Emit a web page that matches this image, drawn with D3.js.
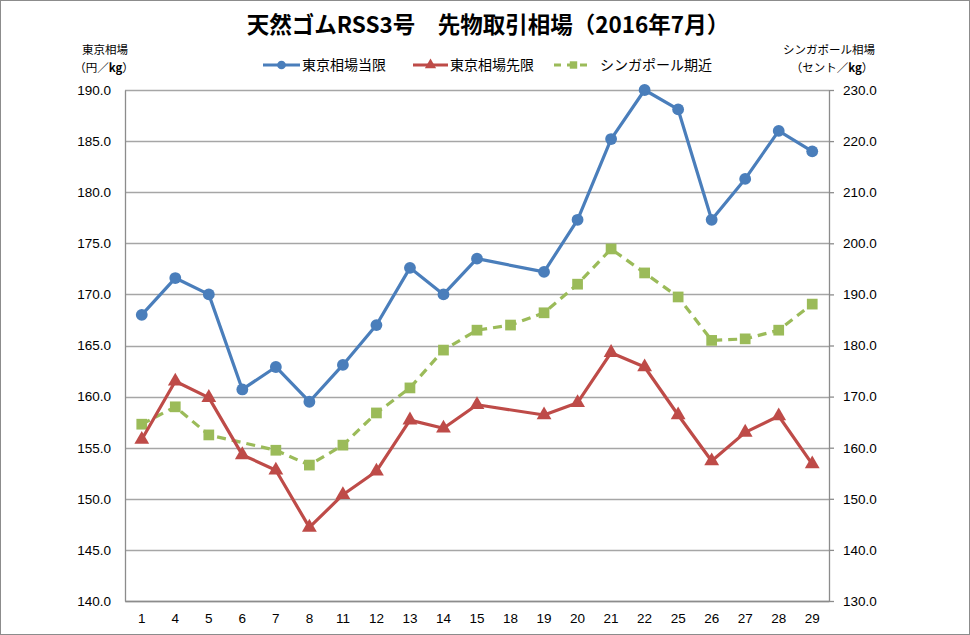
<!DOCTYPE html>
<html><head><meta charset="utf-8">
<script src="https://cdn.jsdelivr.net/npm/d3@7"></script>
<style>
html,body{margin:0;padding:0;background:#fff;}
svg{display:block;}
</style></head>
<body><svg id="c" width="970" height="635"></svg>
<script>
const categories = ["1","4","5","6","7","8","11","12","13","14","15","18","19","20","21","22","25","26","27","28","29"];
const tokyoSpot = [168.0,171.6,170.0,160.7,162.9,159.5,163.1,167.0,172.6,170.0,173.5,null,172.2,177.3,185.2,190.0,188.1,177.3,181.3,186.0,184.0];
const tokyoFuture = [155.8,161.5,159.9,154.3,152.8,147.2,150.4,152.7,157.7,156.9,159.2,null,158.2,159.4,164.3,162.9,158.2,153.7,156.5,158.1,153.4];
const singapore = [164.6,168.0,162.5,null,159.5,156.6,160.5,166.8,171.7,179.1,183.0,184.0,186.4,192.0,198.9,194.2,189.5,181.0,181.3,183.0,188.1];
const leftTicks = [140,145,150,155,160,165,170,175,180,185,190];
const rightTicks = [130,140,150,160,170,180,190,200,210,220,230];
const seriesNames = ["東京相場当限","東京相場先限","シンガポール期近"];
const title = "天然ゴムRSS3号　先物取引相場（2016年7月）";

const svg = d3.select("#c");
const W = 970, H = 635;
const m = {l:125, r:141, t:90, b:34};
const x = d3.scaleBand().domain(categories).range([m.l, W - m.r]);
const yL = d3.scaleLinear().domain([140,190]).range([H - m.b, m.t]);
const yR = d3.scaleLinear().domain([130,230]).range([H - m.b, m.t]);
const font = "'Liberation Sans', Arial, sans-serif";
const jfont = "'Noto Sans CJK JP', sans-serif";

// outer border
svg.append("rect").attr("x",0.5).attr("y",0.5).attr("width",W-1).attr("height",H-1)
  .attr("fill","#fff").attr("stroke","#8c8c8c").attr("stroke-width",1);

// gridlines
svg.append("g").selectAll("line").data(leftTicks).join("line")
  .attr("x1",m.l).attr("x2",W-m.r).attr("y1",d=>Math.round(yL(d))+0.5).attr("y2",d=>Math.round(yL(d))+0.5)
  .attr("stroke","#a6a6a6").attr("stroke-width",1.3);

// left axis
const gL = svg.append("g").attr("transform",`translate(${m.l},0)`)
  .call(d3.axisLeft(yL).tickValues(leftTicks).tickFormat(d3.format(".1f")).tickSize(0).tickPadding(14));
gL.select(".domain").attr("stroke","#8c8c8c").attr("stroke-width",1.3);
gL.selectAll("text").attr("font-family",font).attr("font-size",13.5).attr("fill","#000");

// right axis
const gR = svg.append("g").attr("transform",`translate(${W-m.r},0)`)
  .call(d3.axisRight(yR).tickValues(rightTicks).tickFormat(d3.format(".1f")).tickSizeInner(5).tickSizeOuter(0).tickPadding(9));
gR.select(".domain").attr("stroke","#8c8c8c").attr("stroke-width",1.3);
gR.selectAll("line").attr("stroke","#8c8c8c").attr("stroke-width",1.3);
gR.selectAll("text").attr("font-family",font).attr("font-size",13.5).attr("fill","#000");

// bottom axis
const gB = svg.append("g").attr("transform",`translate(0,${H-m.b})`)
  .call(d3.axisBottom(x).tickSize(0).tickPadding(12));
gB.select(".domain").attr("stroke","#8c8c8c").attr("stroke-width",1.3);
gB.selectAll("text").attr("font-family",font).attr("font-size",13.5).attr("fill","#000");

const cx = d => x(d) + x.bandwidth()/2;

function drawSeries(vals, yS, color, dash, marker){
  const pts = categories.map((c,i)=>({c, v:vals[i]})).filter(p=>p.v!=null);
  const line = d3.line().x(p=>cx(p.c)).y(p=>yS(p.v));
  svg.append("path").datum(pts).attr("d",line).attr("fill","none")
    .attr("stroke",color).attr("stroke-width",3.2).attr("stroke-linejoin","round")
    .attr("stroke-dasharray",dash||null);
  const sym = d3.symbol().type(marker.type).size(marker.size);
  svg.append("g").selectAll("path").data(pts).join("path")
    .attr("d",sym).attr("transform",p=>`translate(${cx(p.c)},${yS(p.v)})`)
    .attr("fill",color);
}
const blue = "#4a7ebb", red = "#be4b48", green = "#9bbb59";
drawSeries(singapore, yR, green, "9,6", {type:d3.symbolSquare, size:115});
drawSeries(tokyoFuture, yL, red, null, {type:d3.symbolTriangle, size:95});
drawSeries(tokyoSpot, yL, blue, null, {type:d3.symbolCircle, size:110});

// title
svg.append("text").attr("x",488).attr("y",33).attr("text-anchor","middle")
  .attr("font-family",jfont).attr("font-weight","bold").attr("font-size",22.5).attr("fill","#000")
  .text(title);

// axis titles
function at(tx,ty,parts){
  const t = svg.append("text").attr("x",tx).attr("y",ty).attr("text-anchor","middle")
    .attr("font-family",jfont).attr("font-size",11.5).attr("fill","#000");
  parts.forEach(p=>t.append("tspan").attr("font-weight",p[1]?"bold":null).text(p[0]));
}
at(105,54,[["東京相場"]]);
at(104,72,[["（円／"],["kg",1],["）"]]);
at(829,54,[["シンガポール相場"]]);
at(832,72,[["（セント／"],["kg",1],["）"]]);

// legend
const leg = [
  {x:263, len:37, tx:302, name:seriesNames[0], color:blue, type:d3.symbolCircle, size:60, dash:null},
  {x:413, len:35, tx:450, name:seriesNames[1], color:red, type:d3.symbolTriangle, size:55, dash:null},
  {x:554, len:39, tx:600, name:seriesNames[2], color:green, type:d3.symbolSquare, size:55, dash:"7,6"}
];
const ly = 65;
leg.forEach(l=>{
  svg.append("line").attr("x1",l.x).attr("x2",l.x+l.len).attr("y1",ly).attr("y2",ly)
    .attr("stroke",l.color).attr("stroke-width",3.2).attr("stroke-dasharray",l.dash);
  svg.append("path").attr("d",d3.symbol().type(l.type).size(l.size)())
    .attr("transform",`translate(${l.x+l.len/2},${ly})`).attr("fill",l.color);
  svg.append("text").attr("x",l.tx).attr("y",ly+5).attr("font-family",jfont)
    .attr("font-size",14).attr("fill","#000").text(l.name);
});
</script></body></html>
